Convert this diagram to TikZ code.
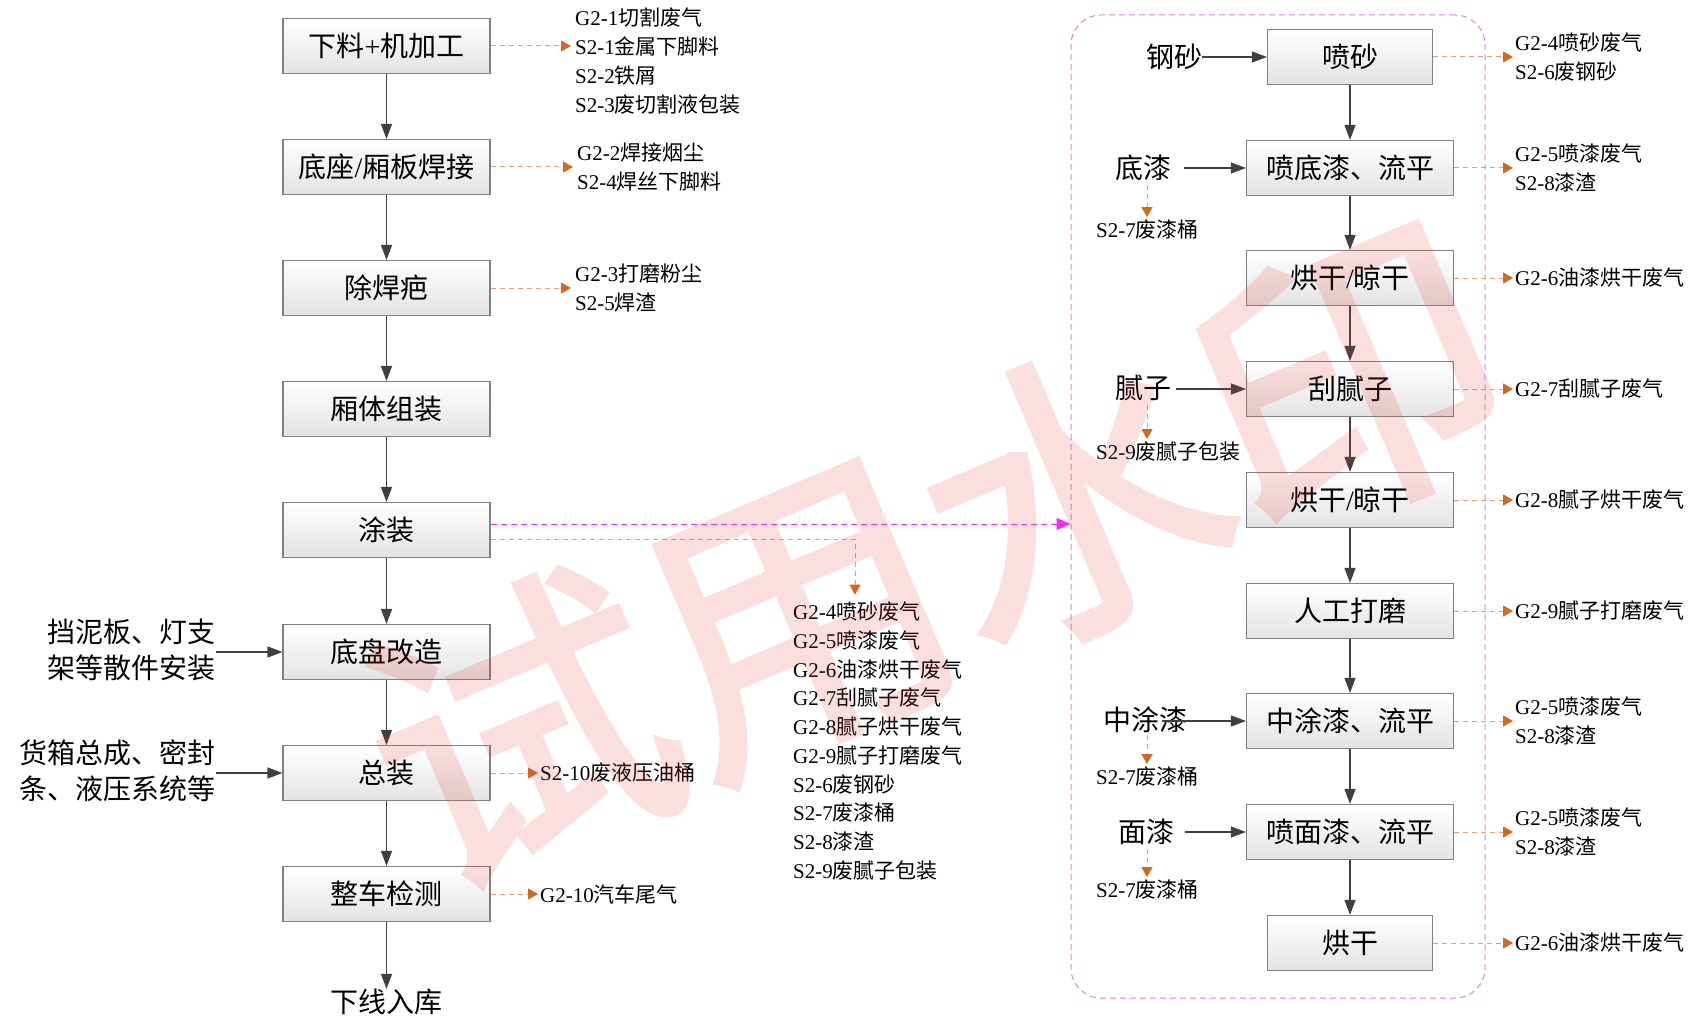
\documentclass[tikz,border=0pt]{standalone}
\usepackage{fontspec}
\setmainfont{Noto Sans CJK SC}
\newfontfamily\latf{Liberation Serif}
\newfontfamily\wmfont[FakeBold=1.8]{Noto Sans CJK SC}
\newcommand\lt[1]{{\latf #1}}
\newcommand\bigf{\fontsize{28}{36}\selectfont}
\newcommand\smf{\fontsize{21}{29}\selectfont}
\usetikzlibrary{arrows.meta}
\definecolor{boxdraw}{HTML}{808080}
\definecolor{flowc}{HTML}{404040}
\definecolor{orgline}{HTML}{DDA07A}
\definecolor{orgtip}{HTML}{D2691E}
\definecolor{magc}{HTML}{F030F0}
\definecolor{contc}{HTML}{E080E0}
\definecolor{wmc}{HTML}{E83030}
\begin{document}
\begin{tikzpicture}[x=1pt,y=-1pt,
  box/.style={draw=boxdraw, line width=1.1pt, top color=white, bottom color=black!11,
    minimum width=207pt, minimum height=55pt, inner sep=0pt, font=\bigf},
  bigtxt/.style={inner sep=0pt, font=\bigf},
  smtxt/.style={inner sep=0pt, font=\smf, align=left},
  flow/.style={draw=flowc, line width=1.2pt, -{Triangle[length=15pt,width=11pt]}},
  outarr/.style={draw=orgline, line width=1pt, dash pattern=on 5pt off 4pt,
    -{Triangle[length=10pt,width=11pt,color=orgtip]}},
  magarr/.style={draw=magc, line width=1pt, dash pattern=on 6pt off 4pt,
    -{Triangle[length=14pt,width=12pt,color=magc]}},
  cont/.style={draw=contc, line width=1pt, dash pattern=on 6pt off 4pt, rounded corners=30pt,
    minimum width=414pt, minimum height=983pt, inner sep=0pt},
  wm/.style={inner sep=0pt, text=wmc, rotate=23, font=\wmfont\fontsize{300}{300}\selectfont}
]
\useasboundingbox (0,0) rectangle (1697,1019);

% ---------- left column ----------
\node[box] (L1) at (386.5,46) {下料\lt{+}机加工};
\node[box] (L2) at (386.5,167) {底座\lt{/}厢板焊接};
\node[box] (L3) at (386.5,288) {除焊疤};
\node[box] (L4) at (386.5,409) {厢体组装};
\node[box] (L5) at (386.5,530) {涂装};
\node[box] (L6) at (386.5,652) {底盘改造};
\node[box] (L7) at (386.5,773) {总装};
\node[box] (L8) at (386.5,894) {整车检测};
\node[bigtxt] (end) at (386.5,1002) {下线入库};

\draw[flow] (L1.south) -- (L2.north);
\draw[flow] (L2.south) -- (L3.north);
\draw[flow] (L3.south) -- (L4.north);
\draw[flow] (L4.south) -- (L5.north);
\draw[flow] (L5.south) -- (L6.north);
\draw[flow] (L6.south) -- (L7.north);
\draw[flow] (L7.south) -- (L8.north);
\draw[flow] (L8.south) -- (end.north);

% left outputs
\node[smtxt, anchor=west] (o1) at (575,61) {\lt{G2-1}切割废气\\\lt{S2-1}金属下脚料\\\lt{S2-2}铁屑\\\lt{S2-3}废切割液包装};
\node[smtxt, anchor=west] (o2) at (577,167) {\lt{G2-2}焊接烟尘\\\lt{S2-4}焊丝下脚料};
\node[smtxt, anchor=west] (o3) at (575,288) {\lt{G2-3}打磨粉尘\\\lt{S2-5}焊渣};
\node[smtxt, anchor=west] (o7) at (540,773) {\lt{S2-10}废液压油桶};
\node[smtxt, anchor=west] (o8) at (540,894) {\lt{G2-10}汽车尾气};
\node[smtxt, anchor=west, font=\fontsize{21}{28.75}\selectfont] (o5) at (793,741) {\lt{G2-4}喷砂废气\\\lt{G2-5}喷漆废气\\\lt{G2-6}油漆烘干废气\\\lt{G2-7}刮腻子废气\\\lt{G2-8}腻子烘干废气\\\lt{G2-9}腻子打磨废气\\\lt{S2-6}废钢砂\\\lt{S2-7}废漆桶\\\lt{S2-8}漆渣\\\lt{S2-9}废腻子包装};

\draw[outarr, shorten >=4pt] (L1.east) -- (L1.east -| o1.west);
\draw[outarr, shorten >=4pt] (L2.east) -- (L2.east -| o2.west);
\draw[outarr, shorten >=4pt] (L3.east) -- (L3.east -| o3.west);
\draw[outarr, shorten >=2pt] (L7.east) -- (L7.east -| o7.west);
\draw[outarr, shorten >=2pt] (L8.east) -- (L8.east -| o8.west);
\draw[outarr, shorten >=7pt] ([yshift=-9pt]L5.east) -| ([xshift=62pt]o5.north west);

% left inputs
\node[bigtxt, align=left, anchor=east] (i6) at (216,650) {挡泥板、灯支\\架等散件安装};
\node[bigtxt, align=left, anchor=east] (i7) at (216,771) {货箱总成、密封\\条、液压系统等};
\draw[flow] (i6.east |- L6.west) -- (L6.west);
\draw[flow] (i7.east |- L7.west) -- (L7.west);

% ---------- right column ----------
\node[cont] (C) at (1278,506.5) {};
\draw[magarr] ([yshift=6pt]L5.east) -- ([yshift=6pt]L5.east -| C.west);

\node[box, minimum width=165pt] (R1) at (1350,57) {喷砂};
\node[box] (R2) at (1350,168) {喷底漆、流平};
\node[box] (R3) at (1350,278) {烘干\lt{/}晾干};
\node[box] (R4) at (1350,389) {刮腻子};
\node[box] (R5) at (1350,500) {烘干\lt{/}晾干};
\node[box] (R6) at (1350,611) {人工打磨};
\node[box] (R7) at (1350,721) {中涂漆、流平};
\node[box] (R8) at (1350,832) {喷面漆、流平};
\node[box, minimum width=165pt] (R9) at (1350,943) {烘干};

\draw[flow] (R1.south) -- (R2.north);
\draw[flow] (R2.south) -- (R3.north);
\draw[flow] (R3.south) -- (R4.north);
\draw[flow] (R4.south) -- (R5.north);
\draw[flow] (R5.south) -- (R6.north);
\draw[flow] (R6.south) -- (R7.north);
\draw[flow] (R7.south) -- (R8.north);
\draw[flow] (R8.south) -- (R9.north);

% right inputs
\node[bigtxt] (gs) at (1174,57) {钢砂};
\node[bigtxt] (dq) at (1143,168) {底漆};
\node[bigtxt] (nz) at (1143,388) {腻子};
\node[bigtxt] (zt) at (1145,720) {中涂漆};
\node[bigtxt] (mq) at (1146,832) {面漆};
\draw[flow] (gs.east |- R1.west) -- (R1.west);
\draw[flow, shorten <=13pt] (dq.east |- R2.west) -- (R2.west);
\draw[flow, shorten <=5pt] (nz.east |- R4.west) -- (R4.west);
\draw[flow, shorten <=-25pt] (zt.east |- R7.west) -- (R7.west);
\draw[flow, shorten <=11pt] (mq.east |- R8.west) -- (R8.west);

\node[smtxt, anchor=west] (s7a) at (1096,230) {\lt{S2-7}废漆桶};
\node[smtxt, anchor=west] (s9) at (1096,452) {\lt{S2-9}废腻子包装};
\node[smtxt, anchor=west] (s7b) at (1096,777) {\lt{S2-7}废漆桶};
\node[smtxt, anchor=west] (s7c) at (1096,890) {\lt{S2-7}废漆桶};
\draw[outarr, shorten <=4pt, shorten >=3pt] ([xshift=4pt]dq.south) -- ([xshift=4pt]dq.south |- s7a.north);
\draw[outarr, shorten <=4pt, shorten >=3pt] ([xshift=4pt]nz.south) -- ([xshift=4pt]nz.south |- s9.north);
\draw[outarr, shorten <=2pt, shorten >=3pt] ([xshift=2pt]zt.south) -- ([xshift=2pt]zt.south |- s7b.north);
\draw[outarr, shorten <=4pt, shorten >=3pt] ([xshift=1pt]mq.south) -- ([xshift=1pt]mq.south |- s7c.north);

% right outputs
\node[smtxt, anchor=west] (p1) at (1515,57) {\lt{G2-4}喷砂废气\\\lt{S2-6}废钢砂};
\node[smtxt, anchor=west] (p2) at (1515,168) {\lt{G2-5}喷漆废气\\\lt{S2-8}漆渣};
\node[smtxt, anchor=west] (p3) at (1515,278) {\lt{G2-6}油漆烘干废气};
\node[smtxt, anchor=west] (p4) at (1515,389) {\lt{G2-7}刮腻子废气};
\node[smtxt, anchor=west] (p5) at (1515,500) {\lt{G2-8}腻子烘干废气};
\node[smtxt, anchor=west] (p6) at (1515,611) {\lt{G2-9}腻子打磨废气};
\node[smtxt, anchor=west] (p7) at (1515,721) {\lt{G2-5}喷漆废气\\\lt{S2-8}漆渣};
\node[smtxt, anchor=west] (p8) at (1515,832) {\lt{G2-5}喷漆废气\\\lt{S2-8}漆渣};
\node[smtxt, anchor=west] (p9) at (1515,943) {\lt{G2-6}油漆烘干废气};
\draw[outarr, shorten >=2pt] (R1.east) -- (R1.east -| p1.west);
\draw[outarr, shorten >=2pt] (R2.east) -- (R2.east -| p2.west);
\draw[outarr, shorten >=2pt] (R3.east) -- (R3.east -| p3.west);
\draw[outarr, shorten >=2pt] (R4.east) -- (R4.east -| p4.west);
\draw[outarr, shorten >=2pt] (R5.east) -- (R5.east -| p5.west);
\draw[outarr, shorten >=2pt] (R6.east) -- (R6.east -| p6.west);
\draw[outarr, shorten >=2pt] (R7.east) -- (R7.east -| p7.west);
\draw[outarr, shorten >=2pt] (R8.east) -- (R8.east -| p8.west);
\draw[outarr, shorten >=2pt] (R9.east) -- (R9.east -| p9.west);

% watermark
\begin{scope}[transparency group, opacity=0.16]
\node[wm] (wmk) at (935,555) {试用水印};
\end{scope}
\end{tikzpicture}
\end{document}
